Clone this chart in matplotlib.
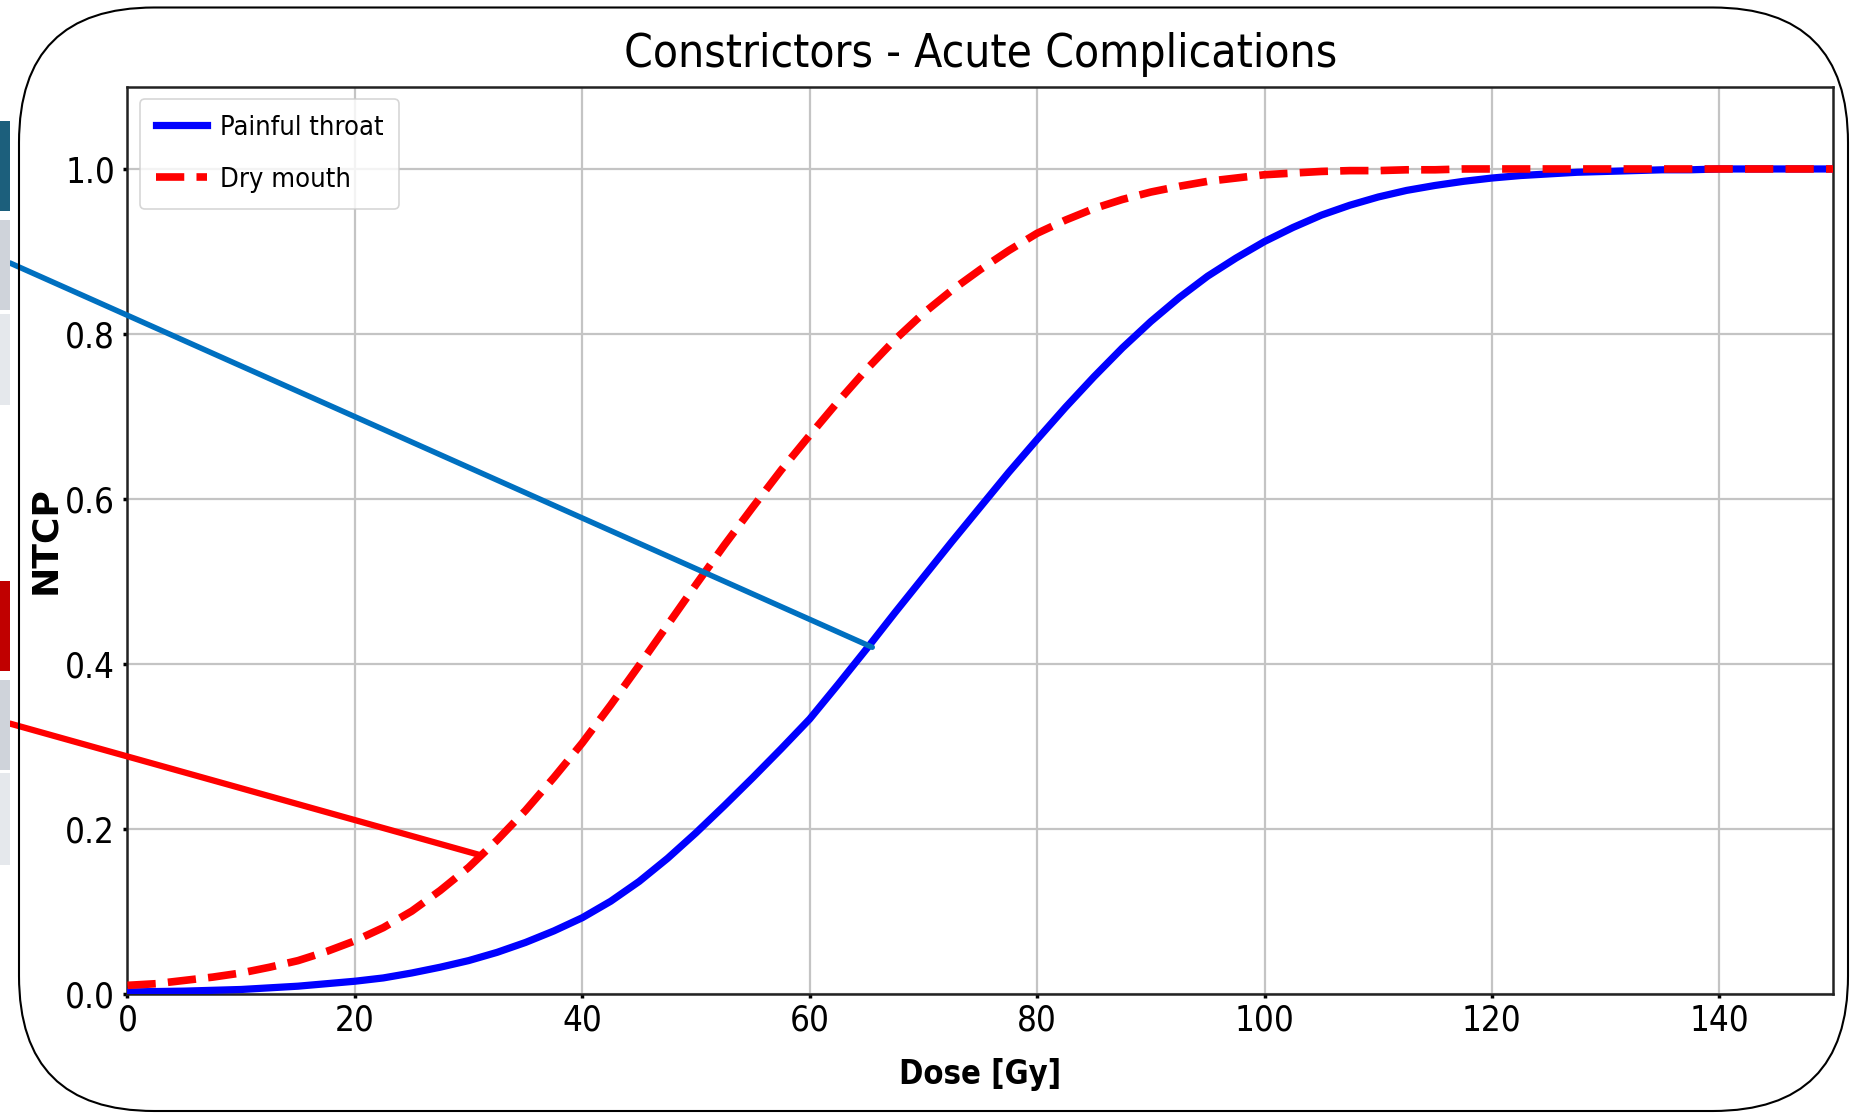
import matplotlib
matplotlib.use('Agg')
import matplotlib.pyplot as plt
from matplotlib import font_manager
from matplotlib.patches import FancyBboxPatch, Rectangle
from matplotlib.transforms import IdentityTransform

# NTCP curves, every 2.5 Gy
dose = [0, 2.5, 5, 7.5, 10, 12.5, 15, 17.5, 20, 22.5, 25, 27.5, 30, 32.5, 35, 37.5,
        40, 42.5, 45, 47.5, 50, 52.5, 55, 57.5, 60, 62.5, 65, 67.5, 70, 72.5, 75, 77.5,
        80, 82.5, 85, 87.5, 90, 92.5, 95, 97.5, 100, 102.5, 105, 107.5, 110, 112.5,
        115, 117.5, 120, 122.5, 125, 127.5, 130, 132.5, 135, 137.5, 140, 142.5, 145,
        147.5, 150]
painful_throat = [0.002, 0.0025, 0.003, 0.004, 0.005, 0.007, 0.009, 0.012, 0.015, 0.019,
                  0.025, 0.032, 0.040, 0.050, 0.062, 0.076, 0.092, 0.112, 0.136, 0.164,
                  0.195, 0.228, 0.262, 0.297, 0.333, 0.375, 0.418, 0.462, 0.505, 0.548,
                  0.590, 0.632, 0.672, 0.711, 0.748, 0.783, 0.815, 0.844, 0.870, 0.892,
                  0.912, 0.929, 0.944, 0.956, 0.966, 0.974, 0.980, 0.985, 0.989, 0.992,
                  0.994, 0.996, 0.997, 0.998, 0.999, 0.999, 1.0, 1.0, 1.0, 1.0, 1.0]
dry_mouth = [0.010, 0.012, 0.016, 0.020, 0.025, 0.032, 0.040, 0.051, 0.064, 0.080,
             0.100, 0.125, 0.153, 0.186, 0.222, 0.262, 0.304, 0.350, 0.398, 0.447,
             0.496, 0.544, 0.590, 0.635, 0.677, 0.718, 0.757, 0.793, 0.825, 0.853,
             0.878, 0.901, 0.922, 0.938, 0.952, 0.963, 0.972, 0.979, 0.985, 0.989,
             0.993, 0.995, 0.997, 0.998, 0.998, 0.999, 0.999, 1.0, 1.0, 1.0,
             1.0, 1.0, 1.0, 1.0, 1.0, 1.0, 1.0, 1.0, 1.0, 1.0, 1.0]
labels = ['Painful throat', 'Dry mouth']

# points where the callout lines touch the curves
pain_point = (65.5, 0.42)
dry_point = (31.0, 0.168)

W, H = 1857, 1113

names = {f.name for f in font_manager.fontManager.ttflist}
if 'Liberation Sans Narrow' in names:
    narrow = dict(family='Liberation Sans Narrow')
else:
    narrow = dict(family='DejaVu Sans', stretch='condensed')

fig = plt.figure(figsize=(W / 100, H / 100), dpi=100)
ax = fig.add_axes([127.5 / W, 1 - 993.6 / H, (1833 - 127.5) / W, (993.6 - 86.5) / H])

ax.plot(dose, painful_throat, color='blue', lw=5.2, label=labels[0], zorder=3)
ax.plot(dose, dry_mouth, color='red', lw=5.5, ls='--', label=labels[1], zorder=3)

ax.set_xlim(0, 150)
ax.set_ylim(0, 1.1)
ax.grid(True, color='#c4c4c4', lw=1.6)
ax.set_axisbelow(True)
for s in ax.spines.values():
    s.set_linewidth(1.8)
    s.set_color('#222222')
ax.tick_params(length=3, width=2.5)
ax.tick_params(axis='y', pad=6)
ax.tick_params(axis='x', pad=3.8)
for t in ax.get_xticklabels() + ax.get_yticklabels():
    t.set_fontproperties(font_manager.FontProperties(size=25, **narrow))

ax.set_title('Constrictors - Acute Complications', pad=14,
             fontproperties=font_manager.FontProperties(size=33, **narrow))
ax.set_xlabel('Dose [Gy]', labelpad=15,
              fontproperties=font_manager.FontProperties(size=23.5, weight='bold', **narrow))
ax.set_ylabel('NTCP', labelpad=2, fontsize=26, fontweight='bold', family='DejaVu Sans')

leg = ax.legend(loc='upper left', prop=font_manager.FontProperties(size=19.5, **narrow),
                borderaxespad=0.45, labelspacing=0.95, borderpad=0.6,
                handlelength=1.9, handletextpad=0.45)
leg.get_frame().set_linewidth(1.2)

# callout lines coming in from the slide on the left
ax.annotate('', xy=pain_point, xycoords='data', xytext=(10, H - 263), textcoords='figure pixels',
            arrowprops=dict(arrowstyle='-', color='#0070c0', lw=4, shrinkA=0, shrinkB=0),
            zorder=6)
ax.annotate('', xy=dry_point, xycoords='data', xytext=(10, H - 723.6), textcoords='figure pixels',
            arrowprops=dict(arrowstyle='-', color='#ff0000', lw=4.5, shrinkA=0, shrinkB=0),
            zorder=6)

# slide blocks peeking in at the left edge (pixel boxes: top, bottom, colour)
blocks = [(121, 211, '#1c5f7c'), (220, 310, '#cfd3da'), (314, 405, '#e5e8ec'),
          (581, 671, '#c00000'), (680, 770, '#cfd3da'), (773, 865, '#e5e8ec')]
for top, bot, c in blocks:
    fig.patches.append(Rectangle((0, H - bot), 10, bot - top, transform=IdentityTransform(),
                                 facecolor=c, edgecolor='none'))

# rounded frame around the picture
fig.patches.append(FancyBboxPatch((19, H - 1111), 1848 - 19, 1111 - 7.5,
                                  boxstyle='round,pad=0,rounding_size=135',
                                  transform=IdentityTransform(), fill=False,
                                  edgecolor='black', lw=1.5, zorder=10))

fig.savefig('out.png', dpi=100)
